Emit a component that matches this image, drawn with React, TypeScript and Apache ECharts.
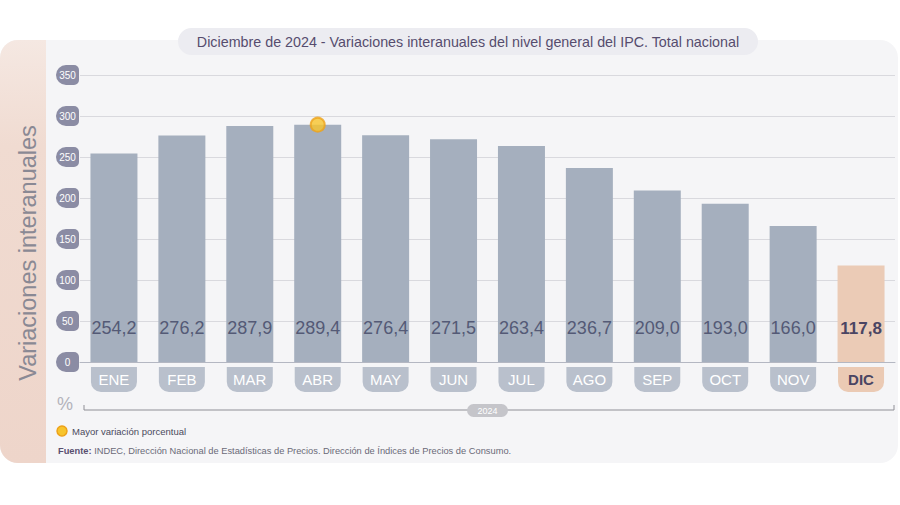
import React, { useEffect, useRef } from "react";
import * as echarts from "echarts";

const months = ["ENE", "FEB", "MAR", "ABR", "MAY", "JUN", "JUL", "AGO", "SEP", "OCT", "NOV", "DIC"];
const values = [254.2, 276.2, 287.9, 289.4, 276.4, 271.5, 263.4, 236.7, 209.0, 193.0, 166.0, 117.8];
const yTicks = { min: 0, max: 350, interval: 50 };
const highlightMonth = "ABR";
const lastMonth = "DIC";
const title = "Diciembre de 2024 - Variaciones interanuales del nivel general del IPC. Total nacional";
const yTitle = "Variaciones interanuales";
const yearLabel = "2024";
const legendText = "Mayor variación porcentual";
const sourceBold = "Fuente:";
const sourceText = " INDEC, Dirección Nacional de Estadísticas de Precios. Dirección de Índices de Precios de Consumo.";

const FONT = "'Liberation Sans', Arial, sans-serif";

export default function App() {
  const ref = useRef<HTMLDivElement>(null);
  useEffect(() => {
    if (!ref.current) return;
    const chart = echarts.init(ref.current, null, { renderer: "svg" });
    const fmt = (v: number) => v.toFixed(1).replace(".", ",");
    const option: any = {
      animation: false,
      backgroundColor: "#ffffff",
      textStyle: { fontFamily: FONT },
      graphic: [
        { type: "rect", z: -10, shape: { x: 0, y: 40, width: 898, height: 423, r: 18 }, style: { fill: "#f5f5f7" } },
        { type: "rect", z: -9, shape: { x: 0, y: 40, width: 46, height: 423, r: [18, 0, 0, 18] },
          style: { fill: new echarts.graphic.LinearGradient(0, 0, 0, 1, [{ offset: 0, color: "#f5e8e2" }, { offset: 0.25, color: "#f0dbd1" }, { offset: 1, color: "#eed5ca" }]) } },
        { type: "rect", z: 5, shape: { x: 178, y: 28, width: 580, height: 27, r: 14 }, style: { fill: "#ececf1" } },
        { type: "text", z: 6, x: 468, y: 42, style: { text: title, fill: "#564c6e", fontSize: 14.3, fontFamily: FONT, align: "center", verticalAlign: "middle" } },
        { type: "text", z: 6, x: 28, y: 253, rotation: Math.PI / 2, style: { text: yTitle, fill: "#8a8994", fontSize: 23.5, fontFamily: FONT, align: "center", verticalAlign: "middle" } },
        { type: "text", z: 6, x: 57, y: 404, style: { text: "%", fill: "#b3b3bb", fontSize: 18, fontFamily: FONT, verticalAlign: "middle" } },
        { type: "polyline", z: 5, shape: { points: [[84, 405], [84, 410], [894, 410], [894, 405]] }, style: { stroke: "#8f8f96", lineWidth: 1, fill: null } },
        { type: "rect", z: 6, shape: { x: 467, y: 404, width: 41, height: 13, r: 7 }, style: { fill: "#c5c5ca" } },
        { type: "text", z: 7, x: 487.5, y: 410.5, style: { text: yearLabel, fill: "#ffffff", fontSize: 9, fontFamily: FONT, align: "center", verticalAlign: "middle" } },
        { type: "circle", z: 6, shape: { cx: 62, cy: 431, r: 5 }, style: { fill: "#f7c42c", stroke: "#eda21a", lineWidth: 1.5 } },
        { type: "text", z: 6, x: 72, y: 431, style: { text: legendText, fill: "#4a4a5c", fontSize: 9.5, fontFamily: FONT, verticalAlign: "middle" } },
        { type: "text", z: 6, x: 58, y: 451, style: {
          text: "{b|" + sourceBold + "}{n|" + sourceText + "}", fontFamily: FONT, verticalAlign: "middle",
          rich: { b: { fontWeight: "bold", fill: "#5a4f70", fontSize: 9.3, fontFamily: FONT }, n: { fill: "#6a6a78", fontSize: 9.3, fontFamily: FONT } } } },
      ],
      grid: { left: 80, right: 5, top: 75, bottom: 143 },
      xAxis: {
        type: "category",
        data: months,
        axisTick: { show: false },
        axisLine: { show: true, lineStyle: { color: "#b4b7c2", width: 1 } },
        axisLabel: {
          margin: 5,
          interval: 0,
          formatter: (v: string) => (v === lastMonth ? "{d|" + v + "}" : "{n|" + v + "}"),
          rich: {
            n: { backgroundColor: "#b9c0cc", color: "#ffffff", fontSize: 15, width: 46, height: 25, lineHeight: 25, align: "center", borderRadius: [0, 0, 10, 10], fontFamily: FONT },
            d: { backgroundColor: "#ebcab4", color: "#4a4563", fontSize: 15, fontWeight: "bold", width: 46, height: 25, lineHeight: 25, align: "center", borderRadius: [0, 0, 10, 10], fontFamily: FONT },
          },
        },
      },
      yAxis: {
        type: "value",
        min: yTicks.min,
        max: yTicks.max,
        interval: yTicks.interval,
        axisLine: { show: false },
        axisTick: { show: false },
        splitLine: { lineStyle: { color: "#d9d9de", width: 1 } },
        axisLabel: {
          margin: 1,
          formatter: (v: number) => "{b|" + v + "}",
          rich: {
            b: { backgroundColor: "#8b8ca4", color: "#ffffff", fontSize: 10, width: 23, height: 20, lineHeight: 20, align: "center", borderRadius: [10, 5, 5, 10], fontFamily: FONT },
          },
        },
      },
      series: [
        {
          type: "bar",
          barWidth: 47,
          data: values.map((v, i) => ({
            value: v,
            itemStyle: { color: months[i] === lastMonth ? "#ebcbb6" : "#a5afbe" },
            label: months[i] === lastMonth ? { fontWeight: "bold", color: "#4a4563", fontSize: 17 } : undefined,
          })),
          label: {
            show: true,
            position: "insideBottom",
            distance: 25,
            fontSize: 18,
            color: "#545a76",
            fontFamily: FONT,
            formatter: (p: any) => fmt(p.value),
          },
        },
        {
          type: "scatter",
          z: 5,
          symbol: "circle",
          symbolSize: 14,
          data: values.map((v, i) => (months[i] === highlightMonth ? v : null)),
          itemStyle: { color: "#f7c42c", borderColor: "#eda21a", borderWidth: 2 },
        },
      ],
    };
    chart.setOption(option);
    return () => chart.dispose();
  }, []);
  return <div ref={ref} style={{ width: 900, height: 505, position: "absolute", left: 0, top: 0 }} />;
}
